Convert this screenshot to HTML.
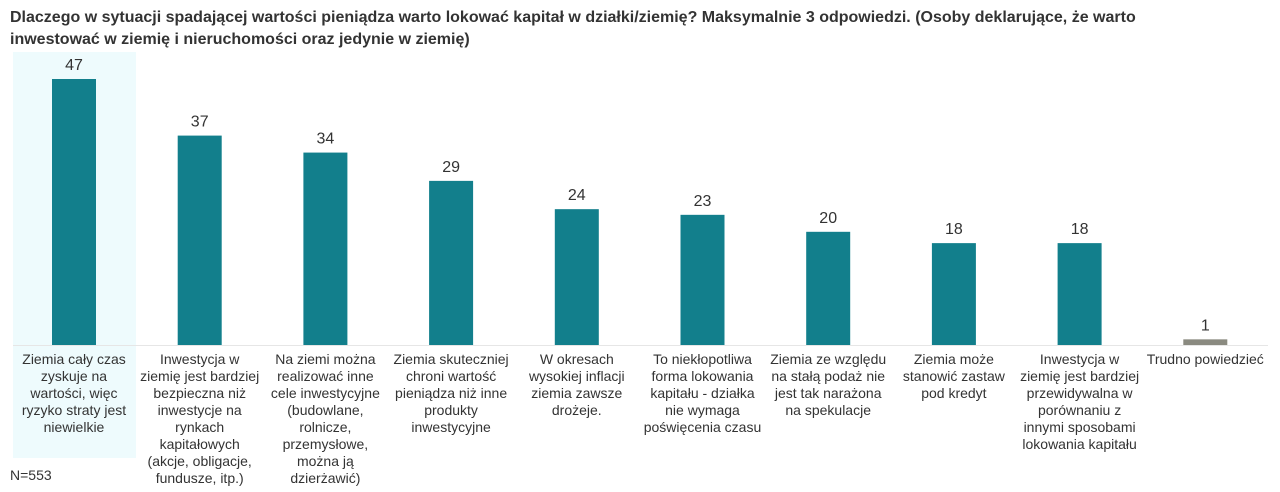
<!DOCTYPE html>
<html><head><meta charset="utf-8"><style>
body{margin:0;width:1280px;height:492px;background:#fff;font-family:"Liberation Sans",sans-serif;color:#333;overflow:hidden;position:relative}
#title{position:absolute;left:10px;top:7px;width:1270px;font-weight:bold;font-size:16px;line-height:22px;color:#333;white-space:nowrap}
#hl{position:absolute;left:13px;top:52px;width:123px;height:406px;background:#eefbfd}
.lbl{position:absolute;top:351px;width:140px;text-align:center;font-size:14px;line-height:17px;color:#333;white-space:pre-line}
#n{position:absolute;left:10px;top:467px;font-size:14px}
svg{position:absolute;left:0;top:0}
</style></head><body>
<div id="hl"></div>
<div id="title">Dlaczego w sytuacji spadającej wartości pieniądza warto lokować kapitał w działki/ziemię? Maksymalnie 3 odpowiedzi. (Osoby deklarujące, że warto<br>inwestować w ziemię i nieruchomości oraz jedynie w ziemię)</div>
<svg id="chart" width="1280" height="492"></svg>
<div id="labels"></div>
<div id="n">N=553</div>
<script>
const categories=["Ziemia cały czas\nzyskuje na\nwartości, więc\nryzyko straty jest\nniewielkie","Inwestycja w\nziemię jest bardziej\nbezpieczna niż\ninwestycje na\nrynkach\nkapitałowych\n(akcje, obligacje,\nfundusze, itp.)","Na ziemi można\nrealizować inne\ncele inwestycyjne\n(budowlane,\nrolnicze,\nprzemysłowe,\nmożna ją\ndzierżawić)","Ziemia skuteczniej\nchroni wartość\npieniądza niż inne\nprodukty\ninwestycyjne","W okresach\nwysokiej inflacji\nziemia zawsze\ndrożeje.","To niekłopotliwa\nforma lokowania\nkapitału - działka\nnie wymaga\npoświęcenia czasu","Ziemia ze względu\nna stałą podaż nie\njest tak narażona\nna spekulacje","Ziemia może\nstanowić zastaw\npod kredyt","Inwestycja w\nziemię jest bardziej\nprzewidywalna w\nporównaniu z\ninnymi sposobami\nlokowania kapitału","Trudno powiedzieć"];
const values=[47,37,34,29,24,23,20,18,18,1];
const x0=74, step=125.7, base=345, scale=266/47, bw=44, lw0=140;
const xc=i=>x0+i*step, y=v=>base-v*scale;
const svg=document.getElementById('chart'), NS='http://www.w3.org/2000/svg';
const ax=document.createElementNS(NS,'line');
ax.setAttribute('x1',13);ax.setAttribute('x2',1268);ax.setAttribute('y1',base+0.5);ax.setAttribute('y2',base+0.5);ax.setAttribute('stroke','#e6e6e6');


svg.appendChild(ax);
const lw=document.getElementById('labels');
values.forEach((v,i)=>{
 const r=document.createElementNS(NS,'rect');
 r.setAttribute('x',xc(i)-bw/2);r.setAttribute('y',y(v));r.setAttribute('width',bw);r.setAttribute('height',v*scale);
 r.setAttribute('fill',i===values.length-1?'#8a8a80':'#127f8c');
 
 
 svg.appendChild(r);
 const t=document.createElementNS(NS,'text');
 t.setAttribute('x',xc(i));t.setAttribute('y',y(v)-9);t.setAttribute('text-anchor','middle');
 t.setAttribute('font-size','16');t.setAttribute('fill','#333');t.setAttribute('font-family','Liberation Sans, sans-serif');
 t.textContent=v;
 
 
 svg.appendChild(t);
 const d=document.createElement('div');
 d.className='lbl';d.style.left=(xc(i)-lw0/2)+'px';
 d.textContent=categories[i];
 
 
 lw.appendChild(d);
});
</script>
</body></html>
